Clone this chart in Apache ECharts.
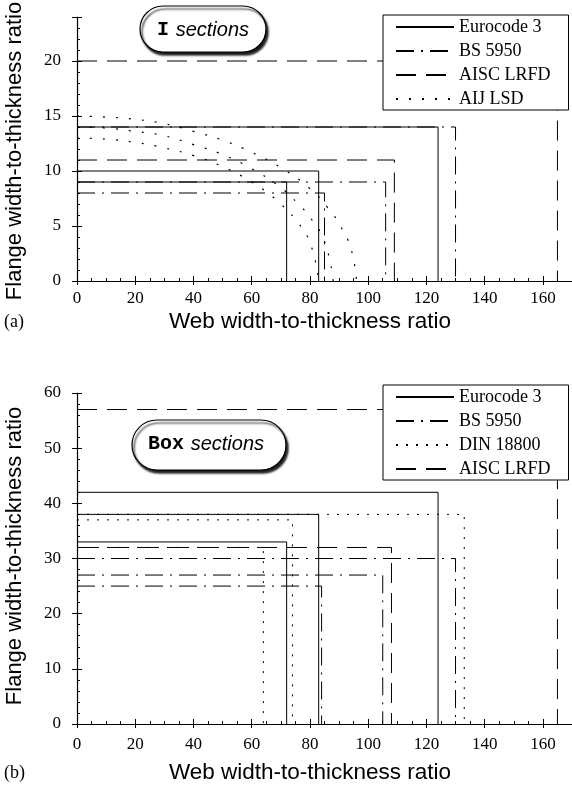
<!DOCTYPE html>
<html>
<head>
<meta charset="utf-8">
<script src="https://cdn.jsdelivr.net/npm/echarts@6/dist/echarts.min.js"></script>
<style>
  html, body { margin: 0; padding: 0; background: #fff; }
  #main { width: 572px; height: 792px; }
</style>
</head>
<body>
<div id="main"></div>
<script>
// (a) I sections: flange limit / web limit pairs, one box per class
var iEcFlange = [9, 10, 14];
var iEcWeb = [72, 83, 124];
var iBsFlange = [8, 9, 14];
var iBsWeb = [85, 106, 130];
var iAiscFlange = [11, 20];
var iAiscWeb = [109, 165];
// AIJ LSD interaction curves, [web, flange]
var aijCurve1 = [[0, 15], [10, 14.9], [20, 14.7], [30, 14.3], [40, 13.6], [50, 12.8], [60, 11.7], [70, 10.3], [80, 8.4], [86, 6.7], [90, 5.2], [94, 3.0], [96, 0]];
var aijCurve2 = [[0, 14], [10, 13.9], [20, 13.6], [30, 13.2], [40, 12.4], [50, 11.5], [60, 10.2], [70, 8.5], [76, 7.0], [80, 5.8], [85, 3.6], [88, 0]];
var aijCurve3 = [[0, 13], [10, 12.9], [20, 12.6], [30, 12.1], [40, 11.4], [50, 10.4], [60, 9.0], [66, 7.9], [70, 7.0], [75, 5.6], [80, 3.5], [83, 0]];

// (b) Box sections
var bEcFlange = [33, 38, 42];
var bEcWeb = [72, 83, 124];
var bBsFlange = [25, 27, 30];
var bBsWeb = [84, 105, 130];
var bDinFlange = [32, 37, 38];
var bDinWeb = [64, 74, 133];
var bAiscFlange = [32, 57];
var bAiscWeb = [108, 165];

var xTicks = { min: 0, max: 170, interval: 20 };
var yTicksA = { min: 0, max: 24, interval: 5 };
var yTicksB = { min: 0, max: 60, interval: 10 };

var legendA = ['Eurocode 3', 'BS 5950', 'AISC LRFD', 'AIJ LSD'];
var legendB = ['Eurocode 3', 'BS 5950', 'DIN 18800', 'AISC LRFD'];

var SOLID = 'solid';
var DASHDOT = [18, 7, 2, 7];
var LONGDASH = [20, 10];
var DOTTED = [2, 8];

var serif = '"Liberation Serif", "Times New Roman", serif';
var sans = '"Liberation Sans", Arial, sans-serif';
var mono = '"Liberation Mono", "Courier New", monospace';

function boxSeries(name, flange, web, dash, idx) {
    var out = [];
    for (var i = 0; i < flange.length; i++) {
        out.push({
            name: name,
            type: 'line',
            xAxisIndex: idx * 2,
            yAxisIndex: idx * 2,
            symbol: 'none',
            silent: true,
            data: [[0, flange[i]], [web[i], flange[i]], [web[i], 0]],
            itemStyle: { color: '#000' },
            lineStyle: { color: '#000', width: 1, type: dash }
        });
    }
    return out;
}

function curveSeries(name, pts, idx) {
    return {
        name: name,
        type: 'line',
        xAxisIndex: idx * 2,
        yAxisIndex: idx * 2,
        symbol: 'none',
        silent: true,
        smooth: true,
        data: pts,
        itemStyle: { color: '#000' },
        lineStyle: { color: '#000', width: 1.2, type: [2, 11] }
    };
}

function xAxes(grid) {
    return [{
        type: 'value', gridIndex: grid,
        min: xTicks.min, max: xTicks.max, interval: xTicks.interval,
        axisLine: { lineStyle: { color: '#000', width: 1.2 } },
        axisTick: { inside: true, length: 5, lineStyle: { color: '#000' } },
        minorTick: { show: true, splitNumber: 4, length: 3, lineStyle: { color: '#000' } },
        splitLine: { show: false },
        axisLabel: { color: '#000', fontFamily: serif, fontSize: 17, margin: grid ? 12 : 9, showMaxLabel: false }
    }, {
        type: 'value', gridIndex: grid, position: 'bottom',
        min: xTicks.min, max: xTicks.max, interval: xTicks.interval,
        axisLine: { show: false },
        axisTick: { inside: false, length: 4, lineStyle: { color: '#000' } },
        splitLine: { show: false },
        axisLabel: { show: false }
    }];
}

function yAxes(grid, t) {
    return [{
        type: 'value', gridIndex: grid,
        min: t.min, max: t.max, interval: t.interval,
        axisLine: { show: true, lineStyle: { color: '#000', width: 1.2 } },
        axisTick: { show: true, inside: true, length: 5, lineStyle: { color: '#000' } },
        minorTick: { show: true, splitNumber: 5, length: 3, lineStyle: { color: '#000' } },
        splitLine: { show: false },
        axisLabel: { color: '#000', fontFamily: serif, fontSize: 17, margin: 16, showMaxLabel: grid === 1 }
    }, {
        type: 'value', gridIndex: grid, position: 'left',
        min: t.min, max: t.max, interval: t.interval,
        axisLine: { show: false },
        axisTick: { show: true, inside: false, length: 5, lineStyle: { color: '#000' } },
        splitLine: { show: false },
        axisLabel: { show: false }
    }];
}

function legend(names, top) {
    return {
        data: names,
        orient: 'vertical',
        left: 383,
        top: top,
        selectedMode: false,
        backgroundColor: '#fff',
        borderColor: '#000',
        borderWidth: 1,
        borderRadius: 0,
        padding: [2, 18, 1, 12],
        itemWidth: 58,
        itemHeight: 12,
        itemGap: 4,
        itemStyle: { opacity: 0 },
        textStyle: { color: '#000', fontFamily: serif, fontSize: 18, lineHeight: 20 }
    };
}

function pill(x, y, w, h, bold, cx, cy) {
    return [{
        type: 'rect',
        shape: { x: x, y: y, width: w, height: h, r: h / 2 },
        style: { fill: '#fff', stroke: '#000', lineWidth: 1.2, shadowBlur: 2, shadowOffsetX: 2, shadowOffsetY: 3, shadowColor: 'rgba(0,0,0,0.9)' },
        z: 10
    }, {
        type: 'text',
        x: cx, y: cy,
        style: {
            text: '{a|' + bold + '}  {b|sections}',
            align: 'center', verticalAlign: 'middle',
            rich: {
                a: { fontFamily: mono, fontWeight: 'bold', fontSize: 20, fill: '#000' },
                b: { fontFamily: sans, fontStyle: 'italic', fontSize: 20, fill: '#000' }
            }
        },
        z: 11
    }];
}

var series = []
    .concat(boxSeries('Eurocode 3', iEcFlange, iEcWeb, SOLID, 0))
    .concat(boxSeries('BS 5950', iBsFlange, iBsWeb, DASHDOT, 0))
    .concat(boxSeries('AISC LRFD', iAiscFlange, iAiscWeb, LONGDASH, 0))
    .concat([curveSeries('AIJ LSD', aijCurve1, 0), curveSeries('AIJ LSD', aijCurve2, 0), curveSeries('AIJ LSD', aijCurve3, 0)])
    .concat(boxSeries('Eurocode 3', bEcFlange, bEcWeb, SOLID, 1))
    .concat(boxSeries('BS 5950', bBsFlange, bBsWeb, DASHDOT, 1))
    .concat(boxSeries('DIN 18800', bDinFlange, bDinWeb, DOTTED, 1))
    .concat(boxSeries('AISC LRFD', bAiscFlange, bAiscWeb, LONGDASH, 1));

var chart = echarts.init(document.getElementById('main'));
var option = {
    animation: false,
    backgroundColor: '#fff',
    grid: [
        { left: 77, top: 17, width: 497, height: 264 },
        { left: 77, top: 393, width: 497, height: 331 }
    ],
    xAxis: xAxes(0).concat(xAxes(1)),
    yAxis: yAxes(0, yTicksA).concat(yAxes(1, yTicksB)),
    legend: [legend(legendA, 15), legend(legendB, 385)],
    series: series,
    graphic: [].concat(
        pill(140, 6, 126, 46, 'I', 203, 30),
        pill(132, 420, 154, 50, 'Box', 206, 444),
        [
            { type: 'text', x: 4, y: 322, style: { text: '(a)', fontFamily: serif, fontSize: 18, fill: '#000', verticalAlign: 'middle' } },
            { type: 'text', x: 4, y: 773, style: { text: '(b)', fontFamily: serif, fontSize: 18, fill: '#000', verticalAlign: 'middle' } },
            { type: 'text', x: 310, y: 322, style: { text: 'Web width-to-thickness ratio', fontFamily: sans, fontSize: 22.5, fill: '#000', align: 'center', verticalAlign: 'middle' } },
            { type: 'text', x: 310, y: 773, style: { text: 'Web width-to-thickness ratio', fontFamily: sans, fontSize: 22.5, fill: '#000', align: 'center', verticalAlign: 'middle' } },
            { type: 'text', x: 15, y: 151, rotation: Math.PI / 2, style: { text: 'Flange width-to-thickness ratio', fontFamily: sans, fontSize: 22, fill: '#000', align: 'center', verticalAlign: 'middle' } },
            { type: 'text', x: 15, y: 556, rotation: Math.PI / 2, style: { text: 'Flange width-to-thickness ratio', fontFamily: sans, fontSize: 22, fill: '#000', align: 'center', verticalAlign: 'middle' } }
        ]
    )
};
chart.setOption(option);
</script>
</body>
</html>
